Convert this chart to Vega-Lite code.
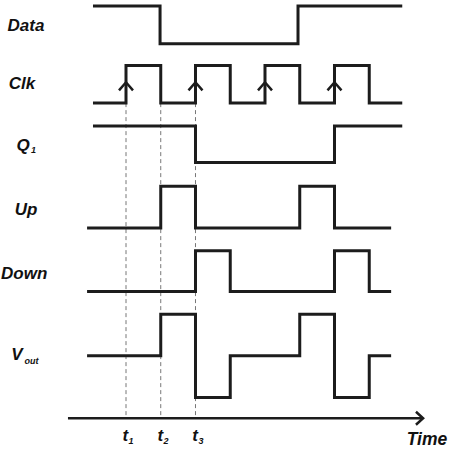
{
  "$schema": "https://vega.github.io/schema/vega-lite/v6.json",
  "width": 450,
  "height": 450,
  "padding": 0,
  "autosize": {"type": "fit", "contains": "padding"},
  "datasets": {
    "waves": [
      {"signal": "Data", "t": -0.95, "y": 2},
      {"signal": "Data", "t": 0.98, "y": 40},
      {"signal": "Data", "t": 4.95, "y": 2},
      {"signal": "Data", "t": 7.95, "y": 2},
      {"signal": "Clk", "t": -0.95, "y": 100},
      {"signal": "Clk", "t": 0, "y": 62},
      {"signal": "Clk", "t": 1, "y": 100},
      {"signal": "Clk", "t": 2, "y": 62},
      {"signal": "Clk", "t": 3, "y": 100},
      {"signal": "Clk", "t": 4, "y": 62},
      {"signal": "Clk", "t": 5, "y": 100},
      {"signal": "Clk", "t": 6, "y": 62},
      {"signal": "Clk", "t": 7, "y": 100},
      {"signal": "Clk", "t": 7.95, "y": 100},
      {"signal": "Q1", "t": -0.95, "y": 123},
      {"signal": "Q1", "t": 2, "y": 160},
      {"signal": "Q1", "t": 6, "y": 123},
      {"signal": "Q1", "t": 7.95, "y": 123},
      {"signal": "Up", "t": -1.12, "y": 226},
      {"signal": "Up", "t": 1, "y": 184},
      {"signal": "Up", "t": 2, "y": 226},
      {"signal": "Up", "t": 5, "y": 184},
      {"signal": "Up", "t": 6, "y": 226},
      {"signal": "Up", "t": 7.63, "y": 226},
      {"signal": "Down", "t": -1.12, "y": 290},
      {"signal": "Down", "t": 2, "y": 249},
      {"signal": "Down", "t": 3, "y": 290},
      {"signal": "Down", "t": 6, "y": 249},
      {"signal": "Down", "t": 7, "y": 290},
      {"signal": "Down", "t": 7.63, "y": 290},
      {"signal": "Vout", "t": -1.12, "y": 355},
      {"signal": "Vout", "t": 1, "y": 313},
      {"signal": "Vout", "t": 2, "y": 397},
      {"signal": "Vout", "t": 3, "y": 355},
      {"signal": "Vout", "t": 5, "y": 313},
      {"signal": "Vout", "t": 6, "y": 397},
      {"signal": "Vout", "t": 7, "y": 355},
      {"signal": "Vout", "t": 7.63, "y": 355}
    ],
    "edges": [
      {"t": 0, "y": 79},
      {"t": 2, "y": 79},
      {"t": 4, "y": 79},
      {"t": 6, "y": 79}
    ],
    "marks": [
      {"t": 0, "top": 100, "bottom": 418},
      {"t": 1, "top": 100, "bottom": 418},
      {"t": 2, "top": 100, "bottom": 418}
    ],
    "axis": [
      {"t": -1.67, "t2": 8.55, "y": 418}
    ],
    "arrow": [
      {"t": 8.55, "y": 418}
    ],
    "names": [
      {"text": "Data", "t": -2.878, "y": 22},
      {"text": "Clk", "t": -2.993, "y": 81},
      {"text": "Q", "t": -2.96, "y": 143},
      {"text": "Up", "t": -2.878, "y": 208},
      {"text": "Down", "t": -2.93, "y": 272},
      {"text": "V", "t": -3.137, "y": 354},
      {"text": "t", "t": -0.02, "y": 436},
      {"text": "t", "t": 0.99, "y": 436},
      {"text": "t", "t": 1.99, "y": 436}
    ],
    "subs": [
      {"text": "1", "t": -2.66, "y": 147},
      {"text": "out", "t": -2.72, "y": 360},
      {"text": "1", "t": 0.144, "y": 441},
      {"text": "2", "t": 1.151, "y": 441},
      {"text": "3", "t": 2.158, "y": 441}
    ],
    "title": [
      {"text": "Time", "t": 8.66, "y": 440}
    ]
  },
  "layer": [
    {
      "data": {"name": "marks"},
      "mark": {"type": "rule", "color": "#777777", "strokeWidth": 1, "strokeDash": [4, 3]},
      "encoding": {
        "x": {"field": "t", "type": "quantitative"},
        "y": {"field": "top", "type": "quantitative"},
        "y2": {"field": "bottom"}
      }
    },
    {
      "data": {"name": "waves"},
      "mark": {"type": "line", "interpolate": "step-after", "color": "#1c1c1c", "strokeWidth": 3, "strokeJoin": "miter", "strokeCap": "butt"},
      "encoding": {
        "x": {"field": "t", "type": "quantitative"},
        "y": {"field": "y", "type": "quantitative"},
        "detail": {"field": "signal"}
      }
    },
    {
      "data": {"name": "edges"},
      "mark": {"type": "point", "shape": "M-1,1.15L0,0L1,1.15", "size": 196, "filled": false, "color": "#1c1c1c", "strokeWidth": 2.5, "opacity": 1},
      "encoding": {
        "x": {"field": "t", "type": "quantitative"},
        "y": {"field": "y", "type": "quantitative"}
      }
    },
    {
      "data": {"name": "axis"},
      "mark": {"type": "rule", "color": "#1c1c1c", "strokeWidth": 2.5},
      "encoding": {
        "x": {"field": "t", "type": "quantitative"},
        "x2": {"field": "t2"},
        "y": {"field": "y", "type": "quantitative"}
      }
    },
    {
      "data": {"name": "arrow"},
      "mark": {"type": "point", "shape": "M-1.1,-1L0,0L-1.1,1", "size": 169, "filled": false, "color": "#1c1c1c", "strokeWidth": 2.5, "opacity": 1},
      "encoding": {
        "x": {"field": "t", "type": "quantitative"},
        "y": {"field": "y", "type": "quantitative"}
      }
    },
    {
      "data": {"name": "names"},
      "mark": {"type": "text", "font": "Liberation Sans", "fontSize": 17, "fontWeight": "bold", "fontStyle": "italic", "align": "center", "baseline": "middle", "color": "#111111"},
      "encoding": {
        "x": {"field": "t", "type": "quantitative"},
        "y": {"field": "y", "type": "quantitative"},
        "text": {"field": "text"}
      }
    },
    {
      "data": {"name": "subs"},
      "mark": {"type": "text", "font": "Liberation Sans", "fontSize": 9, "fontWeight": "bold", "fontStyle": "italic", "align": "center", "baseline": "middle", "color": "#111111"},
      "encoding": {
        "x": {"field": "t", "type": "quantitative"},
        "y": {"field": "y", "type": "quantitative"},
        "text": {"field": "text"}
      }
    },
    {
      "data": {"name": "title"},
      "mark": {"type": "text", "font": "Liberation Sans", "fontSize": 17.5, "fontWeight": "bold", "fontStyle": "italic", "align": "center", "baseline": "middle", "color": "#111111"},
      "encoding": {
        "x": {"field": "t", "type": "quantitative"},
        "y": {"field": "y", "type": "quantitative"},
        "text": {"field": "text"}
      }
    }
  ],
  "resolve": {"scale": {"x": "shared", "y": "shared"}},
  "encoding": {
    "x": {"field": "t", "type": "quantitative", "scale": {"domain": [-3.626, 9.324], "nice": false, "zero": false}, "axis": null},
    "y": {"field": "y", "type": "quantitative", "scale": {"domain": [0, 450], "reverse": true, "nice": false, "zero": false}, "axis": null}
  },
  "config": {
    "view": {"stroke": null},
    "background": "white"
  }
}
